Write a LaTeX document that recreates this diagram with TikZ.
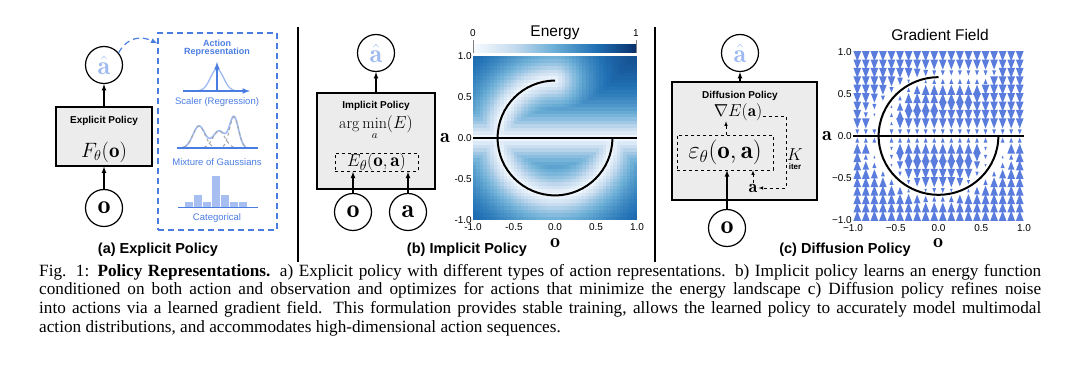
\documentclass[tikz,border=0pt]{standalone}
\usepackage{amsmath,amssymb}
\usepackage{fontspec}
\setsansfont{Liberation Sans}
\newfontfamily\capfont{Liberation Serif}
\usetikzlibrary{calc,shapes,arrows,positioning}

\definecolor{repblue}{RGB}{74,125,226}
\definecolor{lightblue}{RGB}{158,186,240}
\definecolor{barblue}{RGB}{166,190,240}
\definecolor{fieldblue}{RGB}{90,124,220}
\definecolor{boxgray}{RGB}{236,236,236}
% Blues colour map
\definecolor{bl0}{RGB}{247,251,255}
\definecolor{bl1}{RGB}{198,219,239}
\definecolor{bl2}{RGB}{107,174,214}
\definecolor{bl3}{RGB}{33,113,181}
\definecolor{bl4}{RGB}{8,48,107}
\pgfdeclarehorizontalshading{blues}{100bp}{color(0bp)=(bl0); color(25bp)=(bl0);
  color(37.5bp)=(bl1); color(50bp)=(bl2); color(62.5bp)=(bl3); color(75bp)=(bl4); color(100bp)=(bl4)}

\newcommand\pxfont[1]{\fontsize{#1}{#1}\selectfont}

\begin{document}
\begin{tikzpicture}[x=1pt, y=-1pt, >=latex,
  varnode/.style={draw, circle, line width=1.2pt, minimum size=37pt, inner sep=0pt, font=\pxfont{26}},
  policy/.style={draw, line width=1.2pt, fill=boxgray, inner sep=0pt},
  innerbox/.style={draw, dashed, line width=0.6pt, inner sep=0pt},
  boxtitle/.style={font=\sffamily\bfseries\pxfont{10}},
  panel/.style={font=\sffamily\bfseries\pxfont{14.5}},
  replabel/.style={font=\sffamily\pxfont{9.5}, text=repblue},
  ticklab/.style={font=\sffamily\pxfont{10}, inner sep=1pt},
  axlab/.style={font=\pxfont{20}},
  flow/.style={->, line width=1.2pt}]

\useasboundingbox (0,0) rectangle (1080,366);

% (a) explicit policy
\node[varnode] (ahatA) at (104,65) {\color{lightblue}$\hat{\mathbf{a}}$};
\node[policy, minimum width=96pt, minimum height=59pt] (boxA) at (104,136.5) {};
\node[boxtitle] (titleA) at (104,121) {Explicit Policy};
\node[font=\pxfont{21}] (funA) at (104,152) {$F_\theta(\mathbf{o})$};
\node[varnode] (obsA) at (104,208) {$\mathbf{o}$};
\draw[flow] (obsA) -- (boxA);
\draw[flow] (boxA) -- (ahatA);

\node[draw=repblue, dashed, dash pattern=on 6pt off 4pt, line width=1.2pt,
  minimum width=119pt, minimum height=197pt] (repbox) at (217.5,131.5) {};
\coordinate (repin) at ($(repbox.north west)+(0,11)$);
\draw[repblue, dashed, dash pattern=on 6pt off 4pt, line width=1.2pt, ->]
  (ahatA.40) .. controls (128,36) and (142,36) .. (repin);
\node[font=\sffamily\bfseries\pxfont{9}, text=repblue, align=center] (reptitle) at (217,48.5) {Action\\[-1pt]Representation};

% scalar
\draw[lightblue, line width=1.3pt] plot[domain=193:241, samples=40] (\x,{91-22*exp(-((\x-217)/6.5)^2/2)});
\draw[repblue, line width=1.5pt, ->] (183,91) -- (250,91);
\draw[repblue, line width=1.5pt, ->] (217,92) -- (217,62);
\node[replabel] (scalar) at (217,102) {Scaler (Regression)};

% mixture
\draw[lightblue, line width=1.6pt] plot[domain=182:246, samples=80]
  (\x,{148-22*exp(-((\x-199)/6)^2/2)-17*exp(-((\x-219)/6)^2/2)-31*exp(-((\x-234)/4.5)^2/2)});
\draw[gray!70, dashed, line width=1pt] plot[domain=184:214, samples=40] (\x,{148-22*exp(-((\x-199)/6)^2/2)});
\draw[gray!70, dashed, line width=1pt] plot[domain=204:234, samples=40] (\x,{148-17*exp(-((\x-219)/6)^2/2)});
\draw[gray!70, dashed, line width=1pt] plot[domain=223:245, samples=40] (\x,{148-31*exp(-((\x-234)/4.5)^2/2)});
\draw[repblue, line width=1.8pt] (177,148) -- (258,148);
\node[replabel] (mixture) at (217,162) {Mixture of Gaussians};

% categorical
\foreach \h [count=\k] in {6,13,6,32,13,6,6}
  \draw[fill=barblue, draw=white, line width=0.6pt] ({175+9*\k},207) rectangle ++(9,-\h);
\draw[repblue, line width=1.3pt] (178,207.5) -- (258,207.5);
\node[replabel] (categ) at (217,218) {Categorical};

\node[panel] (capA) at (158,250) {(a) Explicit Policy};

\draw[line width=1.2pt] (298,27) -- (298,262);
\draw[line width=1.2pt] (655,27) -- (655,262);

% (b) implicit policy
\node[varnode] (ahatB) at (376,53) {\color{lightblue}$\hat{\mathbf{a}}$};
\node[policy, minimum width=118pt, minimum height=96pt] (boxB) at (376,141) {};
\node[boxtitle] (titleB) at (376,106) {Implicit Policy};
\node[font=\pxfont{16}, inner sep=0pt] (argB) at (376,128) {$\arg\min\limits_a(E)$};
\node[innerbox, minimum width=83pt, minimum height=18pt, font=\pxfont{19}] (energyB) at (376.5,162.5) {$E_\theta(\mathbf{o},\mathbf{a})$};
\node[varnode] (obsB) at (353,212) {$\mathbf{o}$};
\node[varnode] (actB) at (408,212) {$\mathbf{a}$};
\draw[flow] (obsB) -- (obsB |- energyB.south);
\draw[flow] (actB) -- (actB |- energyB.south);
\draw[flow] (boxB) -- (ahatB);

% energy landscape: distance to the curve
\begin{scope}[shift={(555,138)}, x=82pt, y=82pt]
  \foreach \i in {0,...,47}{
    \foreach \j in {0,...,47}{
      \pgfmathsetmacro\cx{-1+(\i+0.5)/24}
      \pgfmathsetmacro\cy{-1+(\j+0.5)/24}
      \pgfmathsetmacro\rr{sqrt((\cx)*(\cx)+(\cy)*(\cy))}
      \pgfmathsetmacro\inq{min(1,max(0,1000*(\cx)))*min(1,max(0,1000*(\cy)))}
      \pgfmathsetmacro\dE{sqrt((\cx)*(\cx)+(\cy-0.7)*(\cy-0.7))}
      \pgfmathsetmacro\dF{sqrt((\cx-0.7)*(\cx-0.7)+(\cy)*(\cy))}
      \pgfmathsetmacro\dd{min(abs(\cy),min(\dE,min(\dF,abs(\rr-0.7)+10*\inq)))}
      \pgfmathsetmacro\en{4*0.95*(1-exp(-2.5*\dd))}
      \pgfmathtruncatemacro\seg{min(3,\en)}
      \pgfmathtruncatemacro\segb{\seg+1}
      \pgfmathsetmacro\mixp{(\en-\seg)*100}
      \fill[bl\segb!\mixp!bl\seg] ({\cx-1/48},{\cy-1/48}) rectangle ++(0.0467,0.0467);
    }
  }
  \draw[line width=2pt] (-1,0) -- (1,0);
  \draw[line width=2pt] (0,0.7) arc[start angle=90, end angle=360, radius=0.7];
  \foreach \v/\t [count=\k] in {1/1.0,0.5/0.5,0/0.0,-0.5/-0.5,-1/-1.0}{
    \node[ticklab, anchor=east] (eytick\k) at (-1,\v) {\t};
  }
  \foreach \v/\t [count=\k] in {-1/-1.0,-0.5/-0.5,0/0.0,0.5/0.5,1/1.0}{
    \node[ticklab] (extick\k) at (\v,-1.09) {\t};
  }
\end{scope}
\node[axlab] (ealab) at (445,138) {$\mathbf{a}$};
\node[axlab] (eolab) at (555,243) {$\mathbf{o}$};
\shade[shading=blues] (473,45) rectangle (636,53);
\draw[gray, line width=0.6pt] (473,40) -- (473,53) (636,40) -- (636,53);
\node[font=\sffamily\pxfont{15.5}] (entitle) at (555,33) {Energy};
\node[ticklab] (cbzero) at (473,33) {0};
\node[ticklab] (cbone) at (636,33) {1};
\node[panel] (capB) at (467,250) {(b) Implicit Policy};

% (c) diffusion policy
\node[varnode] (ahatC) at (740,53) {\color{lightblue}$\hat{\mathbf{a}}$};
\node[policy, minimum width=145pt, minimum height=118pt] (boxC) at (744.5,141) {};
\node[boxtitle] (titleC) at (740,96) {Diffusion Policy};
\node[font=\pxfont{17}, inner sep=0.5pt] (gradE) at (738,112) {$\nabla E(\mathbf{a})$};
\node[innerbox, minimum width=96pt, minimum height=35pt, font=\pxfont{25}] (epsC) at (725,152.5) {$\varepsilon_\theta(\mathbf{o},\mathbf{a})$};
\node[font=\pxfont{18}, inner sep=1pt] (noisyA) at (753,188) {$\mathbf{a}$};
\node[font=\pxfont{18}] (iterK) at (795,155) {$K$};
\node[font=\sffamily\bfseries\pxfont{8}] (iterlab) at (795,167) {iter};
\coordinate (loopR) at (786,115);
\draw[dashed, line width=0.6pt, ->] (gradE.base east) -- (gradE.base east -| loopR) -- (loopR |- noisyA) -- (noisyA.east);
\draw[dashed, line width=0.6pt, ->] (epsC.north -| gradE.south) ++(-12,0) coordinate (epsup) -- (epsup |- gradE.south);
\draw[dashed, line width=0.6pt, ->] (noisyA.north) -- (noisyA.north |- epsC.south);
\node[varnode] (obsC) at (727,228) {$\mathbf{o}$};
\draw[flow] (obsC) -- (obsC |- epsC.south);
\draw[flow] (boxC.north -| ahatC) -- (ahatC);

% gradient field: vertical pull towards the nearest curve point
\begin{scope}[shift={(938.5,136)}, x=85.5pt, y=84pt]
  \foreach \i in {0,...,19}{
    \foreach \j in {0,...,19}{
      \pgfmathsetmacro\gx{-0.95+0.1*\i}
      \pgfmathsetmacro\gy{-0.95+0.1*\j}
      \pgfmathsetmacro\rr{sqrt((\gx)*(\gx)+(\gy)*(\gy))}
      \pgfmathsetmacro\inq{min(1,max(0,1000*(\gx)))*min(1,max(0,1000*(\gy)))}
      \pgfmathsetmacro\dE{sqrt((\gx)*(\gx)+(\gy-0.7)*(\gy-0.7))}
      \pgfmathsetmacro\dF{sqrt((\gx-0.7)*(\gx-0.7)+(\gy)*(\gy))}
      \pgfmathsetmacro\dC{abs(\rr-0.7)+10*\inq}
      \pgfmathsetmacro\dL{abs(\gy)}
      \pgfmathsetmacro\dmin{min(\dL,min(\dE,min(\dF,\dC)))}
      % pick the y-offset of the nearest point
      \pgfmathsetmacro\vy{\dmin==\dL ? -(\gy) : (\dmin==\dE ? 0.7-(\gy) : (\dmin==\dF ? -(\gy) : (\gy)*(0.7/\rr-1)))}
      \pgfmathsetmacro\sz{min(1,abs(\vy)/0.1)}
      \pgfmathsetmacro\dir{\vy>0 ? 1 : -1}
      \ifdim\sz pt>0.2pt
        \fill[fieldblue] ({\gx-0.045*\sz},{\gy-0.06*\sz*\dir}) -- ({\gx+0.045*\sz},{\gy-0.06*\sz*\dir})
          -- (\gx,{\gy+0.06*\sz*\dir}) -- cycle;
      \fi
    }
  }
  \draw[line width=2pt] (-1,0) -- (1,0);
  \draw[line width=2pt] (0,0.7) arc[start angle=90, end angle=360, radius=0.7];
  \foreach \v/\t [count=\k] in {1/1.0,0.5/0.5,0/0.0,-0.5/\textminus0.5,-1/\textminus1.0}{
    \node[ticklab, anchor=east] (gytick\k) at (-1,\v) {\t};
  }
  \foreach \v/\t [count=\k] in {-1/\textminus1.0,-0.5/\textminus0.5,0/0.0,0.5/0.5,1/1.0}{
    \node[ticklab] (gxtick\k) at (\v,-1.1) {\t};
  }
\end{scope}
\node[axlab] (galab) at (827,136) {$\mathbf{a}$};
\node[axlab] (golab) at (938,243) {$\mathbf{o}$};
\node[font=\sffamily\pxfont{15.5}] (gtitle) at (940,35) {Gradient Field};
\node[panel] (capC) at (845,250) {(c) Diffusion Policy};

% caption
\node[anchor=north west, text width=1002pt, inner sep=0pt, align=justify,
  font=\capfont\fontsize{17.2}{18.6}\selectfont] (caption) at (39,264)
  {Fig. 1: \textbf{Policy Representations.} a) Explicit policy with different types of action representations. b) Implicit policy learns an energy function\linebreak
  conditioned on both action and observation and optimizes for actions that minimize the energy landscape c) Diffusion policy refines noise\linebreak
  into actions via a learned gradient field. This formulation provides stable training, allows the learned policy to accurately model multimodal\linebreak
  action distributions, and accommodates high-dimensional action sequences.};

\end{tikzpicture}
\end{document}
